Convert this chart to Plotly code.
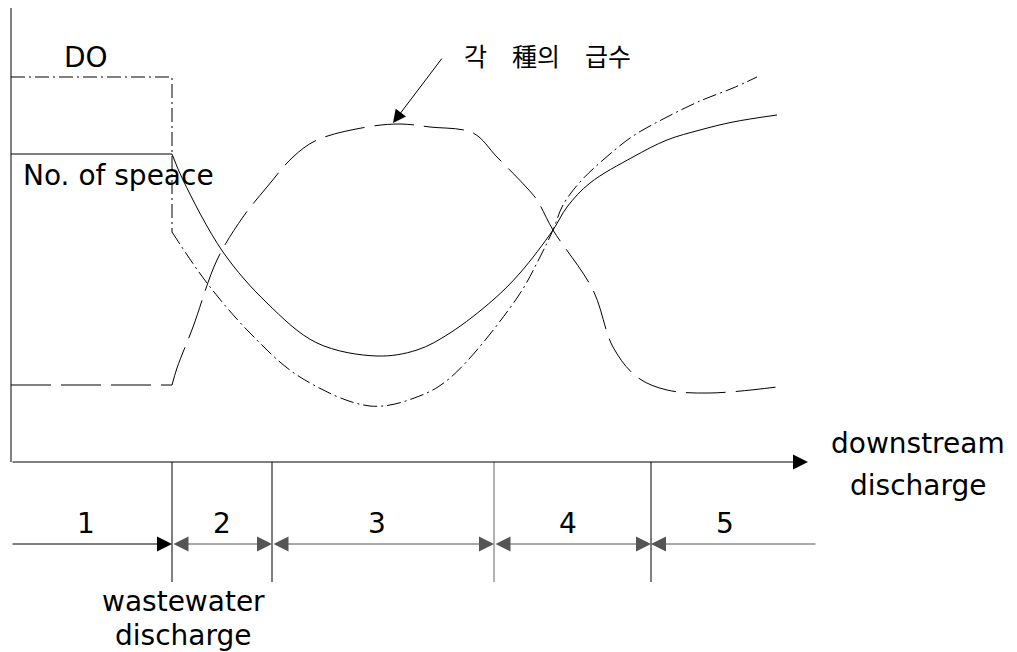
import plotly.graph_objects as go

# ---- data (chart units: x = distance downstream, y = level above baseline) ----
do_step_x = [0, 161, 161]
do_step_y = [385, 385, 230]
do_curve_x = [161, 196, 239, 289, 359, 406, 439, 506, 529, 542, 552, 569, 592, 622, 656, 689, 722, 746]
do_curve_y = [230, 179, 129, 85, 56, 65, 84, 164, 205, 232, 257, 280, 302, 326, 345, 361, 374, 385]

sp_step_x = [0, 161]
sp_step_y = [308, 308]
sp_curve_x = [161, 172, 212, 256, 306, 366, 406, 439, 482, 509, 542, 556, 579, 622, 656, 689, 722, 766]
sp_curve_y = [308, 282, 210, 159, 119, 106, 112, 129, 162, 189, 232, 255, 279, 305, 322, 332, 340, 347]

ks_step_x = [0, 161]
ks_step_y = [77, 77]
ks_curve_x = [161, 166, 182, 206, 232, 256, 282, 306, 356, 389, 419, 462, 486, 516, 526, 542, 582, 602, 626, 656, 699, 766]
ks_curve_y = [77, 94, 135, 202, 245, 275, 305, 322, 335, 338, 335, 329, 305, 274, 262, 232, 172, 115, 85, 72, 69, 75]

zone_bounds = [0, 161, 261, 483, 640, 806]
zone_labels = ["1", "2", "3", "4", "5"]
zone_label_x = [75, 211, 366, 557, 714]

axis_x_end = 797
axis_y_end = 454
divider_bottom = -120
dim_line_y = -82
label_y = -61

FONT = "DejaVu Sans"
DASHDOT = "14px,4px,2px,4px"
DASHED = "40px,10px"

fig = go.Figure()

def add_line(x, y, dash, shape="linear", color="black"):
    fig.add_trace(go.Scatter(x=x, y=y, mode="lines", showlegend=False, hoverinfo="skip",
                             line=dict(color=color, width=1, dash=dash, shape=shape,
                                       smoothing=1.0 if shape == "spline" else None)))

add_line(do_step_x, do_step_y, DASHDOT)
add_line(do_curve_x, do_curve_y, DASHDOT, "spline")
add_line(sp_step_x, sp_step_y, "solid")
add_line(sp_curve_x, sp_curve_y, "solid", "spline")
add_line(ks_step_x, ks_step_y, DASHED)
add_line(ks_curve_x, ks_curve_y, DASHED, "spline")

# vertical axis
add_line([0, 0], [0, axis_y_end], "solid")
# dividers
for i, xb in enumerate(zone_bounds[1:-1]):
    add_line([xb, xb], [0, divider_bottom], "solid", color="black" if i != 2 else "#666666")

annotations = []
# horizontal axis arrow
annotations.append(dict(x=axis_x_end, y=0, ax=0, ay=0, xref="x", yref="y", axref="x", ayref="y",
                        text="", showarrow=True, arrowhead=2, arrowsize=3, arrowwidth=1,
                        arrowcolor="black", standoff=0, startstandoff=0))
# dimension arrows
for i in range(5):
    x0, x1 = zone_bounds[i], zone_bounds[i + 1]
    if i == 0:
        side, head_x, tail_x = "end", x1, x0
    elif i == 4:
        side, head_x, tail_x = "end", x0, x1
    else:
        side, head_x, tail_x = "end+start", x1, x0
    annotations.append(dict(x=head_x, y=dim_line_y, ax=tail_x, ay=dim_line_y, xref="x", yref="y",
                            axref="x", ayref="y", text="", showarrow=True, arrowhead=2,
                            startarrowhead=2, arrowside=side, arrowsize=3, startarrowsize=3,
                            arrowwidth=1, arrowcolor="black" if i == 0 else "#555555",
                            standoff=0, startstandoff=0))
    annotations.append(dict(x=zone_label_x[i], y=label_y, xref="x", yref="y", text=zone_labels[i],
                            showarrow=False, font=dict(family=FONT, size=28, color="black")))

# pointer to species curve
annotations.append(dict(x=382, y=339, ax=432, ay=405, xref="x", yref="y", axref="x", ayref="y",
                        text="", showarrow=True, arrowhead=2, arrowsize=2.6, arrowwidth=1,
                        arrowcolor="black", standoff=0))

texts = [
    ("DO", 75, 405, "center"),
    ("No. of speace", 10, 287, "left"),
    ("downstream", 907, 19, "center"),
    ("discharge", 907, -23, "center"),
    ("wastewater", 172, -139, "center"),
    ("discharge", 172, -173, "center"),
]
for t, x, y, xa in texts:
    annotations.append(dict(x=x, y=y, xref="x", yref="y", text=t, showarrow=False, xanchor=xa,
                            font=dict(family=FONT, size=28, color="black")))
annotations.append(dict(x=536, y=407, xref="x", yref="y", text="각\u3000種의\u3000급수", showarrow=False,
                        font=dict(family="Noto Sans CJK KR", size=25, color="black")))

fig.update_layout(
    width=1017, height=652, margin=dict(l=0, r=0, t=0, b=0),
    plot_bgcolor="white", paper_bgcolor="white",
    xaxis=dict(range=[-11, 1006], visible=False, fixedrange=True),
    yaxis=dict(range=[-190, 462], visible=False, fixedrange=True),
    annotations=annotations,
)

fig.write_html("out.html", config={"displayModeBar": False},
               post_script="document.body.style.margin='0';document.body.style.overflow='hidden';")
